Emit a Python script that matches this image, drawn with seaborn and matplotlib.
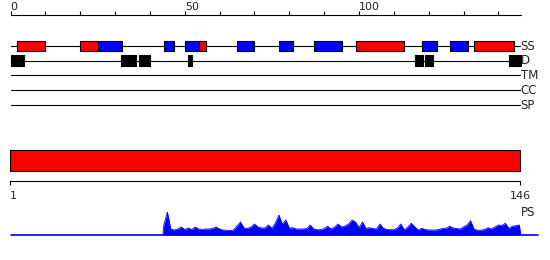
import numpy as np
import pandas as pd
import matplotlib
matplotlib.use("Agg")
import matplotlib.pyplot as plt
import seaborn as sns

# ---------------- data ----------------
seq_len = 146
ruler_ticks = list(range(0, 141, 10))
ruler_labels = {0: "0", 50: "50", 100: "100"}
track_names = ["SS", "D", "TM", "CC", "SP"]
helix = [(2, 10), (20, 25), (54, 56), (99, 113), (133, 144.4)]
strand = [(25, 32), (44, 47), (50, 54), (65, 70), (77, 81), (87, 95),
          (118, 122.3), (126, 131.2)]
disorder = [(0, 3.8), (31.7, 35.9), (36.9, 40), (50.8, 52.1),
            (116, 118.4), (118.9, 121.1), (143, 146.5)]
domain = [(1, 146)]
domain_ticks = [1, 146]
ps_pos = list(range(44, 147))
ps_val = [10, 23, 6, 5, 6, 8, 5.5, 7, 5.5, 8,
          6, 5.5, 6, 6, 6.5, 8, 6, 5, 4.7, 4.5,
          5, 9, 13, 7, 6.5, 8, 11, 8, 7, 7,
          10, 6.7, 12, 20, 11, 15, 7, 7.3, 6, 6,
          6, 6.5, 10, 6, 5.3, 5.3, 6.5, 8.7, 6, 8,
          11, 8, 9, 11, 15, 13, 7.3, 13, 6.7, 7.3,
          6.5, 6, 11, 6.7, 5.5, 5.3, 5.3, 7, 11, 5,
          8, 11.7, 8.3, 5, 6.7, 5.5, 5, 5, 5, 5.5,
          6.7, 6.8, 8.7, 7, 6.5, 6, 8, 10, 14.3, 6,
          4.7, 4.8, 5.5, 7.3, 6, 8, 10, 9.5, 11.7, 6.7,
          8.7, 9.3, 10]

# ---------------- style ----------------
sns.set_theme(style="white")
plt.rcParams['font.family'] = ['DejaVu Sans']

W, H = 550, 260
PX = 3.485          # pixels per residue (top ruler)
X0 = 10.5           # pixel of residue 0
xlim_top = (-X0 / PX, (W - X0) / PX)
lw = 0.8
fs = 8

fig = plt.figure(figsize=(W / 100, H / 100), dpi=100)

# main panel: rows in pixel units
ax = fig.add_axes([0, 0, 1, 1])
ax.set_xlim(*xlim_top)
ax.set_ylim(H, 0)
ax.axis("off")

# ruler
ax.plot([0, 146.5], [14.5, 14.5], color="black", lw=lw)
ax.vlines(ruler_ticks, 10.5, 14.5, color="black", lw=lw)
for t, lab in ruler_labels.items():
    ax.text(t, 6.5, lab, ha="left", va="center", fontsize=fs, color="#222222")

# tracks
track_y = [45.5, 60.5, 75, 90, 105]
for name, y in zip(track_names, track_y):
    ax.plot([0, 146.2], [y, y], color="black", lw=lw, zorder=1)
    ax.text(146.4, y + 0.5, name, ha="left", va="center", fontsize=fs + 0.5)

ax.broken_barh([(s, e - s) for s, e in helix], (41, 9.5),
               facecolors="#ff0000", edgecolors="black", linewidth=lw, zorder=2)
ax.broken_barh([(s, e - s) for s, e in strand], (41, 9.5),
               facecolors="#0000ff", edgecolors="black", linewidth=lw, zorder=2)
ax.broken_barh([(s, e - s) for s, e in disorder], (55, 11),
               facecolors="black", edgecolors="black", linewidth=lw, zorder=2)

# domain panel
bx = fig.add_axes([0, (H - 205) / H, 1, 65 / H])
bscale = (520 - 10) / 145
bx.set_xlim(1 - 10 / bscale, 146 + (W - 520) / bscale)
bx.set_ylim(205, 140)
bx.axis("off")
bx.broken_barh([(s, e - s) for s, e in domain], (150, 20.5),
               facecolors="#ff0000", edgecolors="black", linewidth=lw)
bx.plot([1, 146], [181, 181], color="black", lw=lw)
bx.vlines(domain_ticks, 181, 185, color="black", lw=lw)
bx.text(domain_ticks[0], 196, str(domain_ticks[0]), ha="left", va="center", fontsize=fs)
bx.text(domain_ticks[1], 196, str(domain_ticks[1]), ha="center", va="center", fontsize=fs)

# PS profile panel
px = fig.add_axes([0, 23 / H, 1, 42 / H])
px.set_xlim(*xlim_top)
px.set_ylim(-2, 40)
px.axis("off")
xs = [ps_pos[0] - 0.3] + ps_pos + [ps_pos[-1] + 0.4]
ys = [0] + ps_val + [0]
df = pd.DataFrame({"pos": xs, "score": ys})
px.fill_between(df["pos"], 0, df["score"], color="#0000ff", lw=0)
sns.lineplot(data=df, x="pos", y="score", ax=px, color="#0000ff", lw=0.6)
px.plot([0, 151.5], [0, 0], color="#0000ff", lw=1.2)
px.text(146.4, 23, "PS", ha="left", va="center", fontsize=fs + 0.5)

fig.savefig("out.png", dpi=100)
